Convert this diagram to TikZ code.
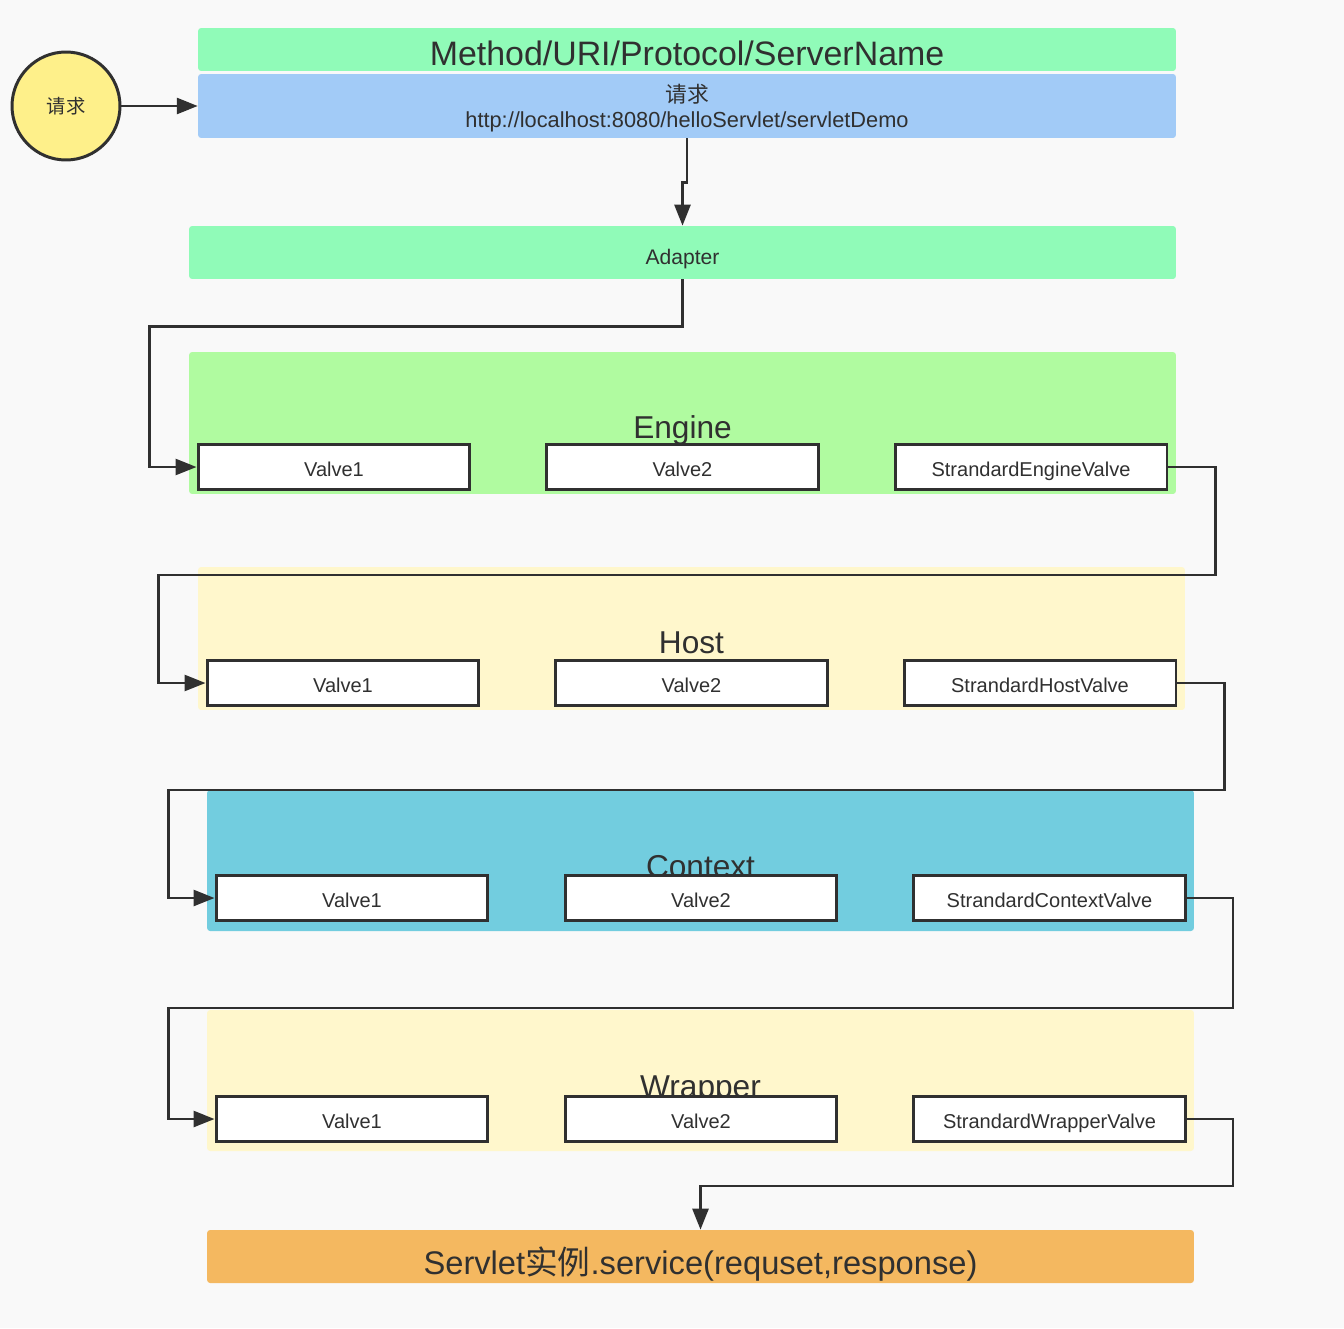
\documentclass[tikz,border=0pt]{standalone}
\usepackage{fontspec}
\setmainfont{Liberation Sans}
\newfontfamily\cjk{Noto Sans CJK SC}
\usepackage{xcolor}
\usetikzlibrary{arrows.meta,positioning}
\definecolor{bgc}{HTML}{F9F9F9}
\definecolor{linec}{HTML}{303030}
\definecolor{mintc}{HTML}{90FBB8}
\definecolor{bluec}{HTML}{A2CBF7}
\definecolor{enginec}{HTML}{B0FBA0}
\definecolor{creamc}{HTML}{FFF7CC}
\definecolor{contextc}{HTML}{72CDDF}
\definecolor{orangec}{HTML}{F4B860}
\definecolor{reqc}{HTML}{FEF08A}

\begin{document}
\begin{tikzpicture}[x=0.02cm, y=-0.02cm, text=linec,
  band/.style={rounded corners=0.06cm, inner sep=0pt, minimum width=19.56cm},
  stagebox/.style={rounded corners=0.06cm, inner sep=0pt, minimum width=19.74cm, minimum height=2.84cm},
  stagetitle/.style={anchor=base, font=\fontsize{18}{20}\selectfont},
  valvebox/.style={draw=linec, line width=1.7pt, fill=white, inner sep=0pt, minimum width=5.44cm, minimum height=0.9cm, text height=11pt, text depth=0pt, font=\fontsize{11.4}{13}\selectfont},
  wire/.style={draw=linec, line width=1.5pt},
  arr/.style={wire, -{Triangle[length=0.42cm, width=0.32cm]}}]
\fill[bgc] (0,0) rectangle (1344,1328);
\useasboundingbox (0,0) rectangle (1344,1328);

% request header
\node[circle, draw=linec, line width=1.7pt, fill=reqc, minimum size=2.16cm, text height=9pt, text depth=0pt, font=\cjk\fontsize{11}{13}\selectfont] (req) at (66,106) {请求};
\node[band, fill=mintc, minimum height=0.86cm] (head) at (687,49.5) {};
\node[anchor=base, font=\fontsize{19.3}{21}\selectfont] (headtxt) at (687,66) {Method/URI/Protocol/ServerName};
\node[band, fill=bluec, minimum height=1.28cm, align=center, text depth=-0.8pt, font=\fontsize{12.4}{14.2}\selectfont] (url) at (687,106) {{\cjk 请求}\\http://localhost:8080/helloServlet/servletDemo};
\node[stagebox, fill=mintc, minimum height=1.06cm, text height=13.7pt, text depth=0pt, font=\fontsize{12}{14}\selectfont] (adapter) at (682.5,252.5) {Adapter};

% containers
\node[stagebox, fill=enginec] (engine) at (682.5,423) {};
\node[stagetitle] (enginetxt) at (682.5,438) {Engine};
\node[stagebox, fill=creamc, minimum height=2.86cm] (host) at (691.5,638.5) {};
\node[stagetitle] (hosttxt) at (691.5,653) {Host};
\node[stagebox, fill=contextc, minimum height=2.82cm] (context) at (700.5,860.5) {};
\node[stagetitle] (contexttxt) at (700.5,877) {Context};
\node[stagebox, fill=creamc, minimum height=2.82cm] (wrapper) at (700.5,1080.5) {};
\node[stagetitle] (wrappertxt) at (700.5,1097) {Wrapper};
\node[stagebox, fill=orangec, minimum height=1.06cm, text height=20pt, text depth=0pt, font=\fontsize{18.6}{20}\selectfont] (servlet) at (700.5,1256.5) {Servlet{\cjk 实例}.service(requset,response)};

% valves
\node[valvebox] (engV1) at (334,467) {Valve1};
\node[valvebox] (engV2) at (682.5,467) {Valve2};
\node[valvebox] (engSV) at (1031,467) {StrandardEngineValve};
\node[valvebox] (hostV1) at (343,683) {Valve1};
\node[valvebox] (hostV2) at (691.5,683) {Valve2};
\node[valvebox] (hostSV) at (1040,683) {StrandardHostValve};
\node[valvebox] (ctxV1) at (352,898) {Valve1};
\node[valvebox] (ctxV2) at (701,898) {Valve2};
\node[valvebox] (ctxSV) at (1049.5,898) {StrandardContextValve};
\node[valvebox] (wrpV1) at (352,1119) {Valve1};
\node[valvebox] (wrpV2) at (701,1119) {Valve2};
\node[valvebox] (wrpSV) at (1049.5,1119) {StrandardWrapperValve};

% flow
\draw[arr] (req) -- (url.west);
\draw[arr] (url.south) -- ++(0,44) -| (adapter.north);
\draw[arr] (adapter.south) -- ++(0,47) -| ([xshift=-0.94cm]engV1.west) -- (engV1.west);
\draw[arr] (engSV.east) -- ++(47,0) -- ++(0,108) -| ([xshift=-0.94cm]hostV1.west) -- (hostV1.west);
\draw[arr] (hostSV.east) -- ++(47,0) -- ++(0,107) -| ([xshift=-0.92cm]ctxV1.west) -- (ctxV1.west);
\draw[arr] (ctxSV.east) -- ++(46,0) -- ++(0,110) -| ([xshift=-0.92cm]wrpV1.west) -- (wrpV1.west);
\draw[arr] (wrpSV.east) -- ++(46,0) -- ++(0,67) -| (servlet.north);
\end{tikzpicture}
\end{document}
